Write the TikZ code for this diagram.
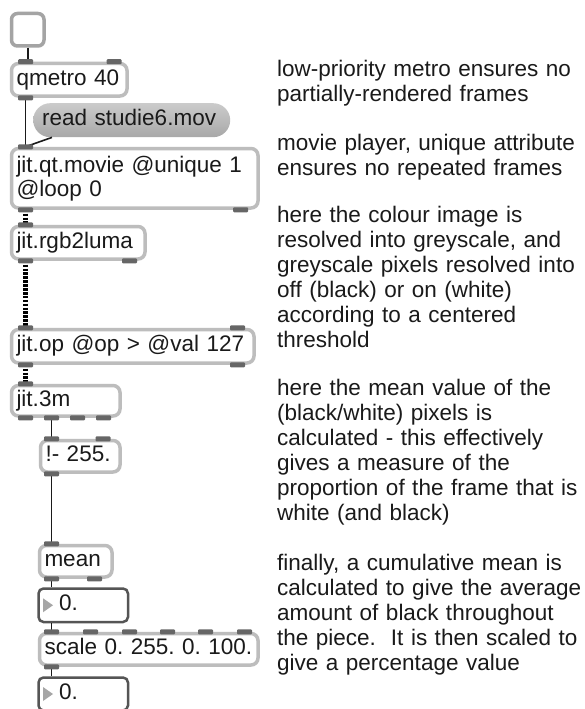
\documentclass[tikz,border=0pt]{standalone}
\usepackage{fontspec}
\setmainfont{Liberation Sans}
\usetikzlibrary{calc}
\frenchspacing

\definecolor{boxgray}{HTML}{BDBDBD}
\definecolor{toggleedge}{HTML}{A4A4A4}
\definecolor{portgray}{HTML}{666666}
\definecolor{numedge}{HTML}{555555}
\definecolor{tri}{HTML}{A6A6A6}
\definecolor{msgtop}{HTML}{CBCBCB}
\definecolor{msgbot}{HTML}{A8A8A8}
\definecolor{ink}{HTML}{1A1A1A}

\newcommand\patchfont{\fontsize{22.5}{24}\selectfont}
\newcommand\notefont{\fontsize{22.5}{25}\selectfont}
% small dark inlet/outlet bar centred on a box edge
\newcommand\port[2]{\fill[port] ([xshift=#2pt]#1) ++(-7.5,-2.5) rectangle ++(15,5);}

\begin{document}
\begin{tikzpicture}[x=1pt,y=-1pt,
  obj/.style={draw=boxgray, line width=3.5pt, rounded corners=7pt, fill=white,
    anchor=north west, inner xsep=5pt, inner ysep=0pt, align=left,
    font=\patchfont, text=ink},
  one/.style={text height=16.2pt, text depth=4.8pt},
  msg/.style={draw=none, rounded corners=17pt, top color=msgtop, bottom color=msgbot,
    anchor=north west, inner xsep=9pt, inner ysep=0pt, align=left,
    font=\patchfont, text=ink, one},
  numbox/.style={draw=numedge, line width=2.5pt, rounded corners=5pt, fill=white,
    anchor=north west, inner xsep=5pt, inner ysep=0pt, align=left,
    font=\patchfont, text=ink, one},
  port/.style={fill=portgray, rounded corners=1pt},
  cord/.style={draw=ink, line width=1.6pt},
  mcord/.style={draw=black, line width=5pt, dash pattern=on 2.6pt off 1.3pt},
  note/.style={anchor=north west, align=left, text width=320pt, font=\notefont,
    inner sep=0pt, text=ink}
]
\useasboundingbox[fill=white] (0,0) rectangle (585,709);

% ---- patch objects ----
\node[obj, draw=toggleedge, rounded corners=6pt, inner sep=0pt,
      minimum width=32.5pt, minimum height=32.5pt] (toggle) at (9.75,11.75) {};
\node[obj, one, text width=105.5pt, minimum height=32.5pt] (qmetro) at (9.75,61.75) {qmetro 40};
\node[msg, text width=179pt, minimum height=34pt] (msg) at (33,103) {read studie6.mov};
\node[obj, text width=236.5pt, minimum height=59.5pt] (movie) at (9.75,146.75)
     {\strut jit.qt.movie @unique 1\\@loop 0};
\node[obj, one, text width=123.5pt, minimum height=32.5pt] (luma) at (9.75,224.75) {jit.rgb2luma};
\node[obj, one, text width=232.5pt, minimum height=33.5pt] (op) at (9.75,327.75) {jit.op @op > @val 127};
\node[obj, one, text width=98.5pt, minimum height=30.5pt] (threem) at (9.75,383.75) {jit.3m};
\node[obj, one, text width=69.5pt, minimum height=31.5pt] (rsub) at (38.75,438.75) {!- 255.};
\node[obj, one, text width=62.5pt, minimum height=31.5pt] (mean) at (37.75,543.75) {mean};
\node[numbox, text width=79.5pt, minimum height=33.5pt] (num1) at (37.25,587.25) {\hspace*{15.5pt}0.};
\node[obj, one, text width=208.5pt, minimum height=31.5pt] (scale) at (37.75,631.75) {scale 0. 255. 0. 100.};
\node[numbox, text width=79.5pt, minimum height=33pt] (num2) at (37.25,676.25) {\hspace*{15.5pt}0.};

% number box arrows
\fill[tri] (num1.west) ++(5.75,-7) -- ++(0,14) -- ++(10,-7) -- cycle;
\fill[tri] (num2.west) ++(5.75,-7) -- ++(0,14) -- ++(10,-7) -- cycle;

% ---- patch cords ----
\draw[cord] (toggle.south) -- (toggle.south |- qmetro.north);
\draw[cord] ([xshift=15.75pt]qmetro.south west) -- ([xshift=15.75pt]movie.north west);
\draw[cord] ([xshift=15.75pt]movie.north west) -- ([xshift=19pt]msg.south west);
\draw[mcord] ([xshift=15.75pt]movie.south west) -- ([xshift=15.75pt]luma.north west);
\draw[mcord] ([xshift=15.75pt]luma.south west) -- ([xshift=15.75pt]op.north west);
\draw[mcord] ([xshift=15.75pt]op.south west) -- ([xshift=15.75pt]threem.north west);
\draw[cord] ([xshift=41.75pt]threem.south west) -- ([xshift=12.75pt]rsub.north west);
\draw[cord] ([xshift=12.75pt]rsub.south west) -- ([xshift=13.75pt]mean.north west);
\draw[cord] ([xshift=13.75pt]mean.south west) -- ([xshift=14.25pt]num1.north west);
\draw[cord] ([xshift=14.25pt]num1.south west) -- ([xshift=13.75pt]scale.north west);
\draw[cord] ([xshift=13.75pt]scale.south west) -- ([xshift=14.25pt]num2.north west);

% ---- inlets and outlets ----
\port{qmetro.north west}{15.75}\port{qmetro.north west}{104.25}
\port{qmetro.south west}{15.75}
\port{movie.north west}{15.75}
\port{movie.south west}{15.75}\port{movie.south west}{230.75}
\port{luma.north west}{15.75}
\port{luma.south west}{15.75}\port{luma.south west}{119.75}
\port{op.north west}{15.75}\port{op.north west}{227.75}
\port{op.south west}{15.75}\port{op.south west}{227.75}
\port{threem.north west}{15.75}
\port{threem.south west}{15.75}\port{threem.south west}{41.75}
\port{threem.south west}{67.75}\port{threem.south west}{93.75}
\port{rsub.north west}{12.75}\port{rsub.north west}{64.25}
\port{rsub.south west}{12.75}
\port{mean.north west}{13.75}
\port{mean.south west}{13.75}\port{mean.south west}{56.75}
\port{scale.north west}{13.75}\port{scale.north west}{52.75}
\port{scale.north west}{91.75}\port{scale.north west}{129.75}
\port{scale.north west}{167.75}\port{scale.north west}{206.75}
\port{scale.south west}{13.75}

% ---- comments beside the patch ----
\node[note] (c1) at (277,58.5) {\strut low-priority metro ensures no\\partially-rendered frames};
\node[note] (c2) at (277,132.5) {\strut movie player, unique attribute\\ensures no repeated frames};
\node[note] (c3) at (277,204.5) {\strut here the colour image is\\resolved into greyscale, and\\greyscale pixels resolved into\\off (black) or on (white)\\according to a centered\\threshold};
\node[note] (c4) at (277,377.5) {\strut here the mean value of the\\(black/white) pixels is\\calculated - this effectively\\gives a measure of the\\proportion of the frame that is\\white (and black)};
\node[note] (c5) at (277,552.5) {\strut finally, a cumulative mean is\\calculated to give the average\\amount of black throughout\\the piece.\ \ It is then scaled to\\give a percentage value};
\end{tikzpicture}
\end{document}
